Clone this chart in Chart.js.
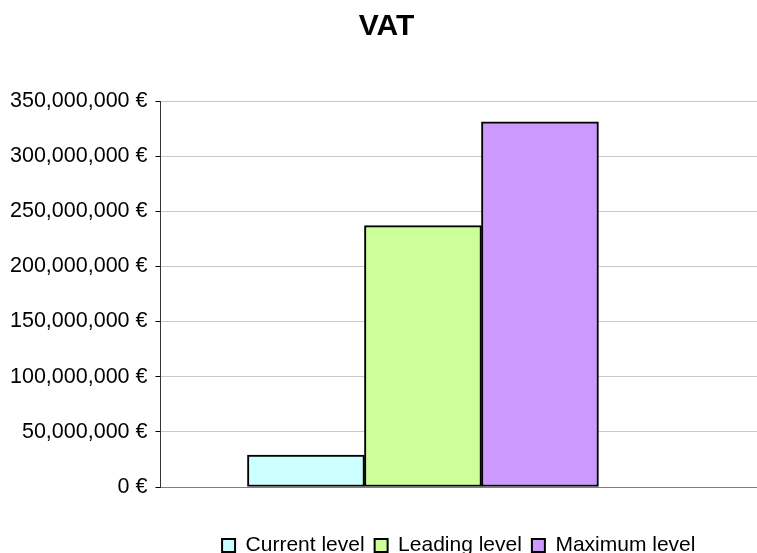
<!DOCTYPE html>
<html>
<head>
<meta charset="utf-8">
<script src="https://cdn.jsdelivr.net/npm/chart.js@4/dist/chart.umd.min.js"></script>
<style>
  html, body { margin: 0; padding: 0; background: #fff; }
  #wrap { width: 757px; height: 553px; position: relative; }
</style>
</head>
<body>
<div id="wrap"><canvas id="vatChart"></canvas></div>
<script>
// VAT chart — one group of three bars

const TITLE       = 'VAT';
const SERIES      = ['Current level', 'Leading level', 'Maximum level'];
const VALUES      = [29000000, 237000000, 331000000];
const COLORS      = ['#ccffff', '#ccff99', '#cc99ff'];
const Y_MAX       = 350000000;
const Y_STEP      = 50000000;

const FONT = "'Liberation Sans', Arial, sans-serif";

const datasets = SERIES.map((name, i) => ({
  label: name,
  data: [{ x: 0, y: VALUES[i] }],
  backgroundColor: COLORS[i],
  borderColor: '#000',
  borderWidth: 2,
  borderSkipped: false,
  barThickness: 117,
}));

// legend centred under the plot area, title nudged right a bit
const boxNudge = {
  id: 'boxNudge',
  afterLayout(chart) {
    const lg = chart.legend;
    if (lg) {
      lg.left = chart.chartArea.left;
      lg.right = chart.chartArea.right;
      lg.width = lg.right - lg.left;
    }
    const tt = chart.titleBlock;
    if (tt) {
      tt.left += 14;
      tt.width = tt.right - tt.left;
    }
  },
};

new Chart(document.getElementById('vatChart'), {
  type: 'bar',
  data: { datasets },
  plugins: [boxNudge],
  options: {
    responsive: true,
    maintainAspectRatio: false,
    animation: false,
    layout: { padding: { left: 2, right: 0, top: 0, bottom: -13 } },
    plugins: {
      title: {
        display: true,
        text: TITLE,
        color: '#000',
        font: { family: FONT, size: 30, weight: 'bold', lineHeight: 1.2 },
        padding: { top: 9, bottom: 56 },
      },
      legend: {
        position: 'bottom',
        align: 'center',
        title: {
          display: true,
          text: ' ',
          font: { size: 14, lineHeight: 1 },
          padding: 8,
        },
        labels: {
          color: '#000',
          font: { family: FONT, size: 21, lineHeight: 1 },
          boxWidth: 13,
          boxHeight: 13,
          padding: 10,
        },
      },
      tooltip: { enabled: false },
    },
    scales: {
      x: {
        type: 'linear',
        offset: false,
        min: -0.44,
        max: 0.56,
        ticks: { display: false },
        grid: { display: false },
        border: { display: true, color: '#808080', width: 1 },
      },
      y: {
        min: 0,
        max: Y_MAX,
        ticks: {
          stepSize: Y_STEP,
          color: '#000',
          padding: 8,
          font: { family: FONT, size: 21.5 },
          callback: v => v.toLocaleString('en-US') + ' €',
        },
        grid: {
          color: '#c8c8c8',
          tickColor: '#000',
          tickLength: 5,
        },
        border: { display: true, color: '#333', width: 1 },
      },
    },
  },
});
</script>
</body>
</html>
